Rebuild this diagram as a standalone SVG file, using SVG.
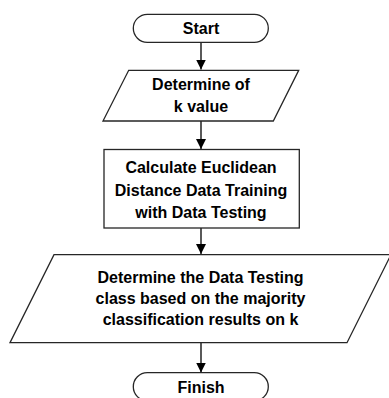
<svg xmlns="http://www.w3.org/2000/svg" width="389" height="398" viewBox="0 0 389 398">
<style>
.s{fill:#fff;stroke:#262626;stroke-width:1.3}
.c{fill:none;stroke:#000;stroke-width:1.3}
text{font-family:"Liberation Sans",Arial,sans-serif;font-weight:bold;font-size:16px;fill:#000;text-anchor:middle}
</style>
<defs>
<marker id="ah" markerUnits="userSpaceOnUse" markerWidth="10" markerHeight="12" refX="10" refY="5" orient="auto">
<path d="M0,0 L10,5 L0,10 Z" fill="#000"/>
</marker>
</defs>
<rect width="389" height="398" fill="#fff"/>
<g id="connectors">
<path class="c" d="M201,42.3 V69.5" marker-end="url(#ah)"/>
<path class="c" d="M201,121 V149" marker-end="url(#ah)"/>
<path class="c" d="M201,228 V254" marker-end="url(#ah)"/>
<path class="c" d="M201,342.7 V372.5" marker-end="url(#ah)"/>
</g>
<g id="start">
<rect class="s" x="133.3" y="14.3" width="135" height="28" rx="14"/>
<text x="201" y="33.5">Start</text>
</g>
<g id="input-k">
<polygon class="s" points="128.7,70.3 298.7,70.3 273.3,121 103,121"/>
<text x="201" y="90">Determine of</text>
<text x="201" y="112">k value</text>
</g>
<g id="calculate">
<rect class="s" x="104" y="149.5" width="195.3" height="78.5"/>
<text x="201" y="173">Calculate Euclidean</text>
<text x="201" y="195.5">Distance Data Training</text>
<text x="201" y="217.5">with Data Testing</text>
</g>
<g id="determine-class">
<polygon class="s" points="54,254.6 391,254.6 347,342.7 10,342.7"/>
<text x="200.5" y="283">Determine the Data Testing</text>
<text x="200.5" y="304">class based on the majority</text>
<text x="200.5" y="325">classification results on k</text>
</g>
<g id="finish">
<rect class="s" x="133.3" y="372.7" width="135" height="28" rx="14"/>
<text x="201" y="393">Finish</text>
</g>
</svg>
